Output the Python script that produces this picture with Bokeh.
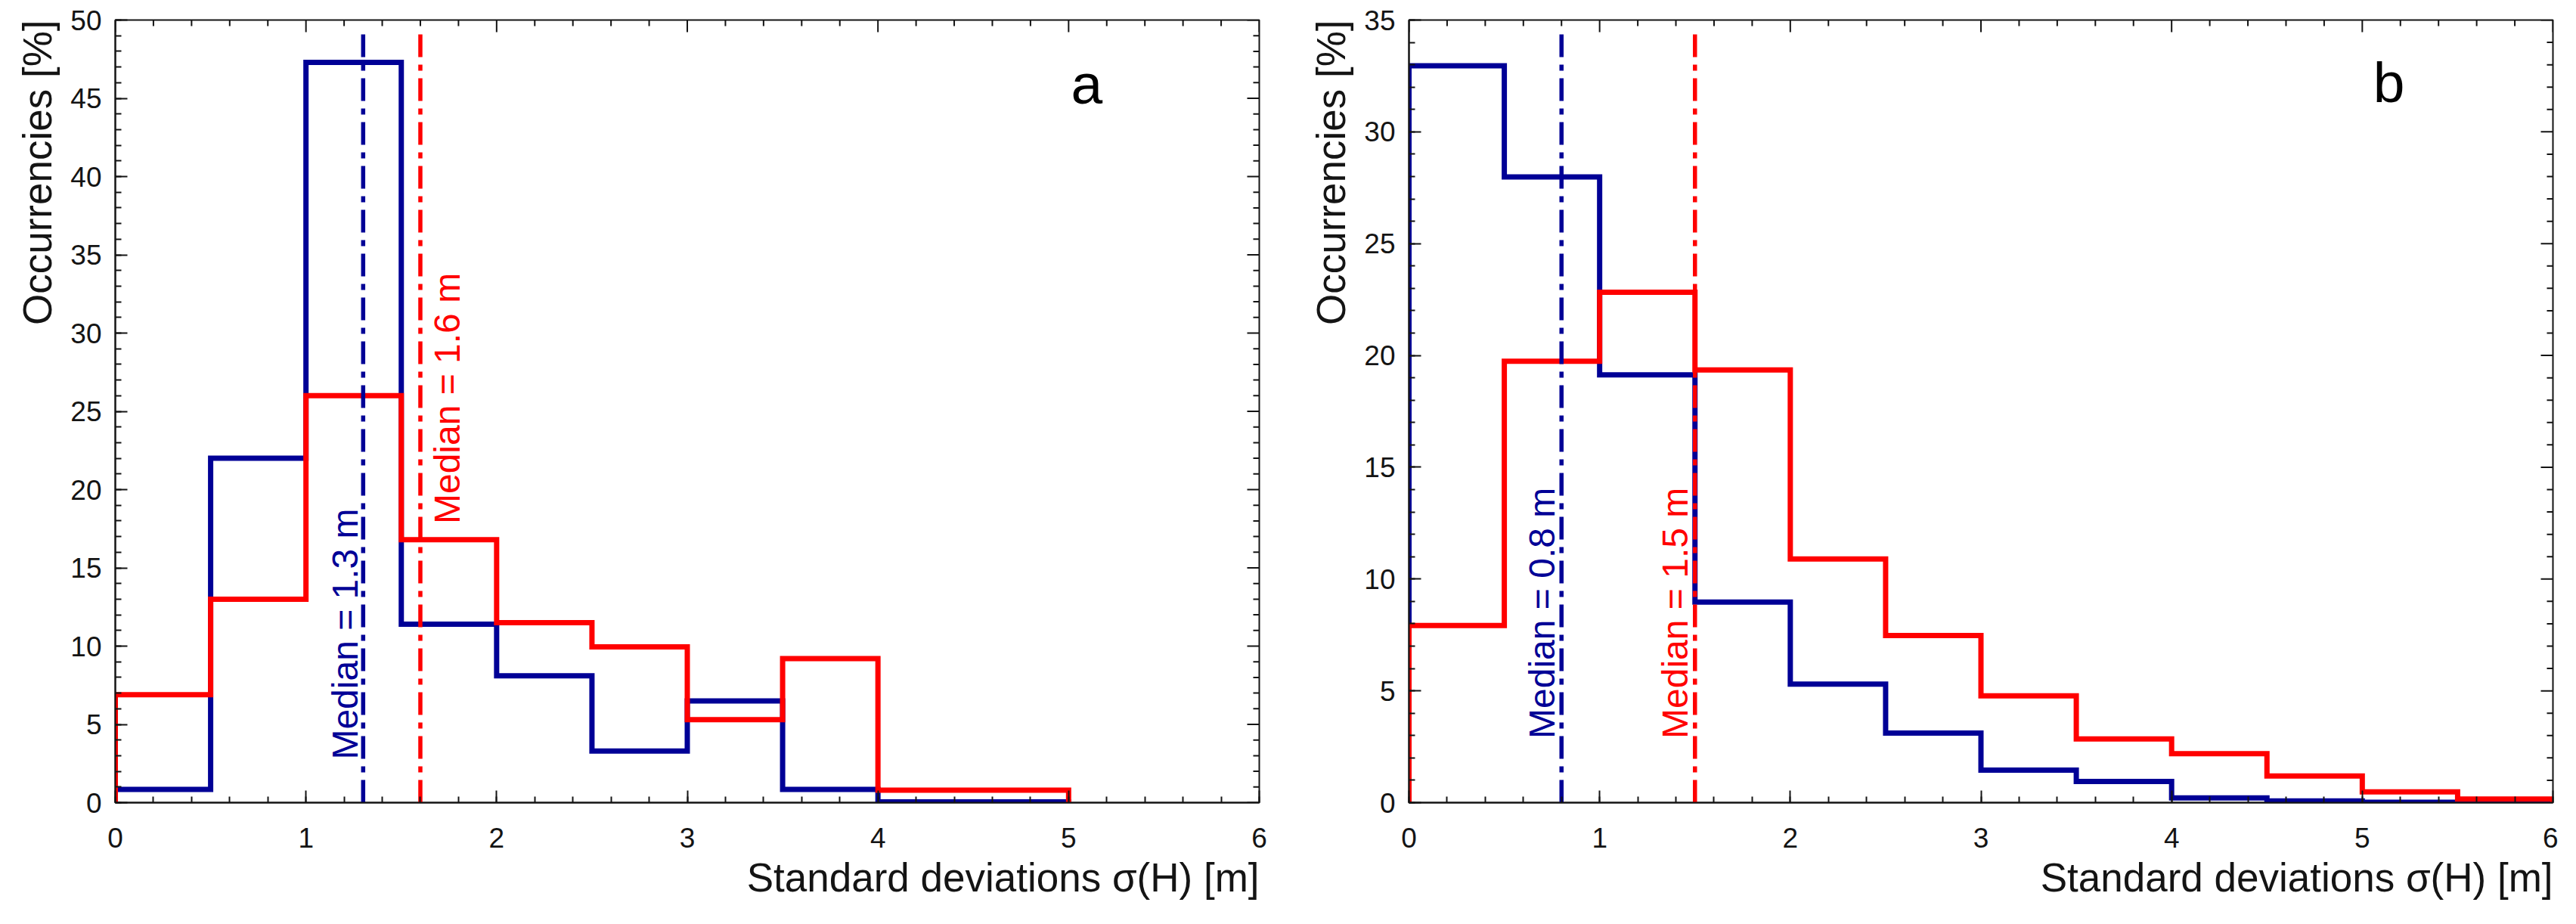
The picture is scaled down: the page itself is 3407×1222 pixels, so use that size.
import math
import numpy as np
from bokeh.plotting import figure
from bokeh.layouts import row
from bokeh.models import Range1d, SingleIntervalTicker, Label, Title
from bokeh.embed import file_html
from bokeh.resources import INLINE

# ---------------- data ----------------
edges_a = [0, 0.5, 1.0, 1.5, 2.0, 2.5, 3.0, 3.5, 4.0, 4.5, 5.0]
blue_a = [0.85, 22.0, 47.3, 11.4, 8.1, 3.3, 6.5, 0.85, 0.05, 0.05]
red_a = [6.9, 13.0, 26.0, 16.8, 11.5, 9.95, 5.3, 9.2, 0.8, 0.8]
medians_a = [1.3, 1.6]          # blue, red

edges_b = [0, 0.5, 1.0, 1.5, 2.0, 2.5, 3.0, 3.5, 4.0, 4.5, 5.0, 5.5, 6.0]
blue_b = [32.95, 27.98, 19.13, 8.97, 5.3, 3.11, 1.45, 0.95, 0.21, 0.08, 0.02, 0.01]
red_b = [7.92, 19.74, 22.83, 19.35, 10.9, 7.47, 4.78, 2.85, 2.19, 1.19, 0.48, 0.16]
medians_b = [0.8, 1.5]

x_label = "Standard deviations σ(H) [m]"
y_label = "Occurrencies [%]"
panel_letters = ["a", "b"]

BLUE = "#000096"
RED = "#FF0000"
FONT = "Liberation Sans"
INK = "#141414"
FRAME_W, FRAME_H = 1513, 1035
XMAX = 6


def style_axis(ax):
    ax.axis_line_width = 2
    ax.axis_line_color = INK
    ax.major_tick_line_width = 2
    ax.minor_tick_line_width = 2
    ax.major_tick_line_color = INK
    ax.minor_tick_line_color = INK
    ax.major_tick_in = 16
    ax.major_tick_out = 0
    ax.minor_tick_in = 8
    ax.minor_tick_out = 0
    ax.major_label_text_font = FONT
    ax.major_label_text_color = INK
    ax.major_label_text_font_size = "37px"


def make_panel(edges, blue, red, medians, ymax, width, bl, br,
               letter, letter_pos, med_text_y, med_offsets):
    p = figure(width=width, height=1198, x_range=Range1d(0, XMAX), y_range=Range1d(0, ymax),
               output_backend="svg", toolbar_location=None,
               min_border_left=bl, min_border_right=br, min_border_top=26, min_border_bottom=137)
    p.grid.visible = False
    p.outline_line_color = INK
    p.outline_line_width = 2
    p.background_fill_color = "white"
    p.border_fill_color = "white"

    p.xaxis.ticker = SingleIntervalTicker(interval=1, num_minor_ticks=5)
    p.yaxis.ticker = SingleIntervalTicker(interval=5, num_minor_ticks=5)
    for ax in p.xaxis:
        style_axis(ax)
        ax.major_label_standoff = 33
    for ax in p.yaxis:
        style_axis(ax)
        ax.major_label_standoff = 18

    # inward ticks on the top and right frame edges (mirroring the axes)
    ppx = FRAME_W / XMAX
    ppy = FRAME_H / ymax
    tx = np.round(np.arange(0, XMAX + 1e-9, 0.2), 6)
    tlen = np.where(np.isclose(tx % 1, 0) | np.isclose(tx % 1, 1), 16, 8) / ppy
    p.segment(x0=tx, y0=np.full(len(tx), ymax), x1=tx, y1=ymax - tlen,
              line_color=INK, line_width=2)
    ty = np.arange(0, ymax + 1e-9, 1.0)
    tl = np.where(np.isclose(ty % 5, 0), 16, 8) / ppx
    p.segment(x0=np.full(len(ty), XMAX), y0=ty, x1=XMAX - tl, y1=ty,
              line_color=INK, line_width=2)

    # histograms (step outlines)
    for vals, col in ((blue, BLUE), (red, RED)):
        xs = [edges[0]] + list(edges[:-1]) + [edges[-1]]
        ys = [0] + list(vals) + [0]
        p.step(x=xs, y=ys, mode="after", line_color=col, line_width=7, line_join="miter")

    # median lines and labels
    ytop = ymax * 0.988
    for m, col, yb, off in zip(medians, (BLUE, RED), med_text_y, med_offsets):
        p.segment(x0=[m], y0=[0], x1=[m], y1=[ytop], line_color=col, line_width=5.5,
                  line_dash="30 10 8 10")
        p.add_layout(Label(x=m, y=yb, text=f"Median = {m} m", angle=math.pi / 2,
                           x_offset=off, text_align="left", text_baseline="middle",
                           text_font=FONT, text_font_size="48px", text_color=col))

    # panel letter
    p.add_layout(Label(x=letter_pos[0], y=letter_pos[1], text=letter, text_align="center",
                       text_baseline="alphabetic", text_font=FONT, text_font_size="75px",
                       text_color="black"))

    # axis titles, aligned to the far ends of the axes
    p.add_layout(Title(text=x_label, align="right", text_font=FONT, text_font_size="53px",
                       text_font_style="normal", text_color=INK, standoff=10), "below")
    p.add_layout(Title(text=y_label, align="right", text_font=FONT, text_font_size="53px",
                       text_font_style="normal", text_color=INK, standoff=24), "left")
    return p


p1 = make_panel(edges_a, blue_a, red_a, medians_a, 50, 1692, 152, 27,
                panel_letters[0], (5.095, 45.9), (2.75, 17.8), (-24, 36))
p2 = make_panel(edges_b, blue_b, red_b, medians_b, 35, 1691, 171, 7,
                panel_letters[1], (5.14, 32.2), (2.86, 2.86), (-26, -26))

layout = row(p1, p2)
open("out.html", "w").write(file_html(layout, INLINE))
